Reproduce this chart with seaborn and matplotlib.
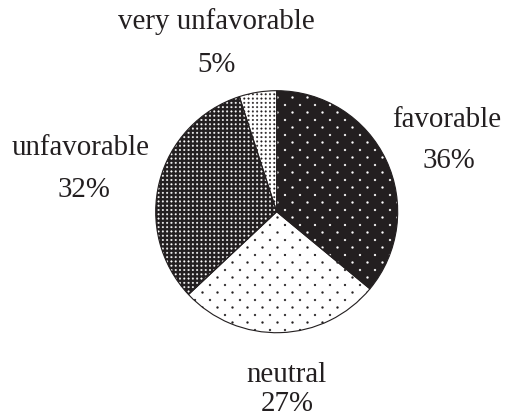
import warnings

import numpy as np
import matplotlib
matplotlib.use("Agg")
import matplotlib.pyplot as plt
import matplotlib.hatch as mhatch
from matplotlib.path import Path
import seaborn as sns

# ---- data -------------------------------------------------------------
categories = ["favorable", "neutral", "unfavorable", "very unfavorable"]
shares = [36, 27, 32, 5]
pct_labels = ["36%", "27%", "32%", "5%"]

# ---- style ------------------------------------------------------------
INK = "#231f20"
face_colors = [INK, "#ffffff", INK, "#ffffff"]
dot_colors = ["#ffffff", INK, "#ffffff", INK]
hatches = [":", ":", ";", ";"]          # ':' sparse dots, ';' dense dots

# label anchors (radius units): category line, percentage line
name_pos = [(1.407, 0.700), (0.077, -1.405), (-1.618, 0.469), (-0.502, 1.510)]
pct_pos = [(1.424, 0.361), (0.085, -1.645), (-1.593, 0.122), (-0.494, 1.155)]

DPI = 90
W, H = 506, 419
R_PX = 121.0
CX, CY = 276.7, 211.7          # pie centre, pixels from top-left


class DotLattice:
    """Hatch made of filled dots on a regular grid, enabled by one marker."""

    def __init__(self, hatch, density, mark, cols, rows, radius, stagger):
        circle = Path.unit_circle()
        self._cv, self._cc = circle.vertices, circle.codes
        self.radius = radius
        centers = []
        if hatch is not None and mark in hatch:
            for r in range(rows + 1):
                y = r / rows
                if stagger and r % 2:
                    xs = (np.arange(cols) + 0.5) / cols
                else:
                    xs = np.arange(cols + 1) / cols
                centers.extend((x, y) for x in xs)
        self.centers = np.asarray(centers, dtype=float).reshape(-1, 2)
        self.num_vertices = len(self.centers) * len(self._cv)

    def set_vertices_and_codes(self, vertices, codes):
        n = len(self._cv)
        for i, (x, y) in enumerate(self.centers):
            vertices[i * n:(i + 1) * n] = self._cv * self.radius + (x, y)
            codes[i * n:(i + 1) * n] = self._cc


# sparse diagonal lattice and dense square lattice (hatch tile = 1 inch)
mhatch._hatch_types.append(
    lambda h, d: DotLattice(h, d, ":", cols=6, rows=12, radius=0.95 / DPI, stagger=True))
mhatch._hatch_types.append(
    lambda h, d: DotLattice(h, d, ";", cols=21, rows=21, radius=0.8 / DPI, stagger=False))

sns.set_style("white")
plt.rcParams["font.family"] = ["Liberation Serif", "DejaVu Serif"]
plt.rcParams["hatch.linewidth"] = 0.3

fig = plt.figure(figsize=(W / DPI, H / DPI), dpi=DPI)
ax = fig.add_axes([0, 0, 1, 1])

# filled, dotted wedges
wedges, _ = ax.pie(shares, startangle=90, counterclock=False,
                   wedgeprops=dict(linewidth=0))
with warnings.catch_warnings():
    warnings.simplefilter("ignore")
    for w, fc, dc, h in zip(wedges, face_colors, dot_colors, hatches):
        w.set_facecolor(fc)
        w.set_edgecolor(dc)      # edge colour drives the hatch colour
        w.set_hatch(h)

# thin outlines on top
ax.pie(shares, startangle=90, counterclock=False,
       wedgeprops=dict(fill=False, edgecolor=INK, linewidth=0.9))

for name, pct, (nx, ny), (px, py) in zip(categories, pct_labels, name_pos, pct_pos):
    ax.text(nx, ny, name, ha="center", va="baseline", fontsize=23.1, color=INK)
    ax.text(px, py, pct, ha="center", va="baseline", fontsize=23.1, color=INK)

ax.set_xlim(-CX / R_PX, (W - CX) / R_PX)
ax.set_ylim(-(H - CY) / R_PX, CY / R_PX)
ax.set_aspect("auto")
ax.axis("off")

fig.savefig("out.png", dpi=DPI)
